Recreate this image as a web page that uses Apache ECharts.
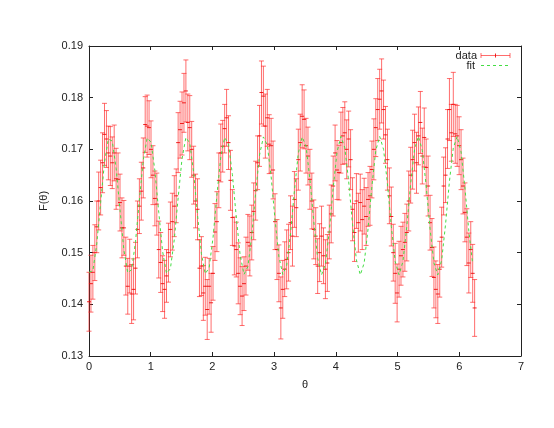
<!DOCTYPE html>
<html>
<head>
<meta charset="utf-8">
<script src="https://cdn.jsdelivr.net/npm/echarts@6/dist/echarts.min.js"></script>
<style>
  html, body { margin: 0; padding: 0; background: #fff; }
  #chart { width: 554px; height: 428px; }
</style>
</head>
<body>
<div id="chart"></div>
<script>
// sample grid (evenly spaced theta)
const thetaStep = 0.0314
const fitStep = 0.0628

// F(theta) measured values
const dataValues = [
  0.1405, 0.1440, 0.1462, 0.1500, 0.1550, 0.1600, 0.1626, 0.1674, 0.1729, 0.1720,
  0.1693, 0.1687, 0.1674, 0.1693, 0.1643, 0.1642, 0.1597, 0.1548, 0.1548, 0.1474,
  0.1435, 0.1474, 0.1420, 0.1429, 0.1470, 0.1545, 0.1590, 0.1619, 0.1664, 0.1748,
  0.1745, 0.1742, 0.1700, 0.1650, 0.1605, 0.1594, 0.1506, 0.1481, 0.1440, 0.1429,
  0.1455, 0.1500, 0.1545, 0.1560, 0.1590, 0.1610, 0.1713, 0.1738, 0.1750, 0.1790,
  0.1813, 0.1752, 0.1742, 0.1700, 0.1650, 0.1600, 0.1584, 0.1470, 0.1474, 0.1422,
  0.1435, 0.1390, 0.1435, 0.1403, 0.1460, 0.1540, 0.1560, 0.1640, 0.1693, 0.1706,
  0.1740, 0.1761, 0.1713, 0.1640, 0.1568, 0.1513, 0.1506, 0.1460, 0.1435, 0.1416,
  0.1440, 0.1474, 0.1520, 0.1513, 0.1539, 0.1580, 0.1620, 0.1674, 0.1726, 0.1810,
  0.1803, 0.1745, 0.1761, 0.1710, 0.1707, 0.1660, 0.1560, 0.1506, 0.1460, 0.1393,
  0.1429, 0.1468, 0.1487, 0.1500, 0.1558, 0.1532, 0.1603, 0.1587, 0.1680, 0.1713,
  0.1764, 0.1758, 0.1707, 0.1687, 0.1642, 0.1600, 0.1545, 0.1532, 0.1474, 0.1500,
  0.1532, 0.1494, 0.1468, 0.1480, 0.1540, 0.1575, 0.1629, 0.1693, 0.1660, 0.1655,
  0.1713, 0.1726, 0.1732, 0.1700, 0.1720, 0.1680, 0.1584, 0.1539, 0.1600, 0.1558,
  0.1597, 0.1564, 0.1590, 0.1570, 0.1603, 0.1610, 0.1661, 0.1700, 0.1742, 0.1777,
  0.1797, 0.1813, 0.1777, 0.1728, 0.1680, 0.1610, 0.1570, 0.1500, 0.1460, 0.1422,
  0.1468, 0.1494, 0.1506, 0.1520, 0.1539, 0.1600, 0.1650, 0.1680, 0.1713, 0.1674,
  0.1726, 0.1752, 0.1687, 0.1723, 0.1665, 0.1629, 0.1558, 0.1510, 0.1452, 0.1429,
  0.1420, 0.1468, 0.1530, 0.1629, 0.1650, 0.1720, 0.1777, 0.1732, 0.1787, 0.1730,
  0.1726, 0.1707, 0.1680, 0.1629, 0.1578, 0.1530, 0.1480, 0.1506, 0.1460, 0.1393
]

// error bar half-heights
const dataErrors = [
  0.0057, 0.0055, 0.0052, 0.0054, 0.0050, 0.0056, 0.0053, 0.0058, 0.0060, 0.0055,
  0.0052, 0.0057, 0.0050, 0.0054, 0.0059, 0.0051, 0.0055, 0.0058, 0.0053, 0.0056,
  0.0054, 0.0052, 0.0057, 0.0059, 0.0050, 0.0055, 0.0053, 0.0056, 0.0058, 0.0054,
  0.0060, 0.0052, 0.0055, 0.0057, 0.0053, 0.0060, 0.0055, 0.0058, 0.0054, 0.0056,
  0.0051, 0.0057, 0.0053, 0.0055, 0.0059, 0.0052, 0.0058, 0.0055, 0.0061, 0.0057,
  0.0060, 0.0055, 0.0062, 0.0054, 0.0056, 0.0052, 0.0059, 0.0055, 0.0057, 0.0053,
  0.0056, 0.0058, 0.0054, 0.0057, 0.0052, 0.0055, 0.0058, 0.0053, 0.0056, 0.0050,
  0.0047, 0.0055, 0.0052, 0.0058, 0.0054, 0.0056, 0.0053, 0.0059, 0.0055, 0.0057,
  0.0052, 0.0056, 0.0054, 0.0058, 0.0053, 0.0055, 0.0057, 0.0052, 0.0059, 0.0061,
  0.0058, 0.0062, 0.0055, 0.0057, 0.0053, 0.0056, 0.0054, 0.0058, 0.0055, 0.0060,
  0.0056, 0.0053, 0.0057, 0.0055, 0.0052, 0.0058, 0.0054, 0.0056, 0.0059, 0.0055,
  0.0061, 0.0057, 0.0053, 0.0056, 0.0058, 0.0054, 0.0057, 0.0055, 0.0053, 0.0056,
  0.0058, 0.0054, 0.0057, 0.0055, 0.0052, 0.0056, 0.0058, 0.0054, 0.0057, 0.0053,
  0.0059, 0.0055, 0.0060, 0.0057, 0.0054, 0.0058, 0.0061, 0.0056, 0.0053, 0.0057,
  0.0055, 0.0058, 0.0054, 0.0056, 0.0052, 0.0057, 0.0055, 0.0059, 0.0056, 0.0060,
  0.0058, 0.0062, 0.0057, 0.0055, 0.0059, 0.0054, 0.0057, 0.0055, 0.0058, 0.0056,
  0.0054, 0.0057, 0.0053, 0.0056, 0.0055, 0.0058, 0.0054, 0.0057, 0.0055, 0.0059,
  0.0056, 0.0060, 0.0054, 0.0057, 0.0055, 0.0058, 0.0053, 0.0056, 0.0059, 0.0055,
  0.0057, 0.0054, 0.0058, 0.0056, 0.0053, 0.0057, 0.0060, 0.0055, 0.0062, 0.0057,
  0.0059, 0.0056, 0.0058, 0.0054, 0.0057, 0.0055, 0.0058, 0.0054, 0.0056, 0.0055
]

// fitted curve samples
const fitValues = [
  0.1462, 0.1465, 0.1517, 0.1597, 0.1675, 0.1720, 0.1716, 0.1663, 0.1583, 0.1505,
  0.1461, 0.1467, 0.1521, 0.1602, 0.1679, 0.1722, 0.1714, 0.1659, 0.1578, 0.1502,
  0.1460, 0.1469, 0.1525, 0.1606, 0.1682, 0.1723, 0.1712, 0.1655, 0.1573, 0.1498,
  0.1459, 0.1471, 0.1529, 0.1611, 0.1685, 0.1723, 0.1710, 0.1651, 0.1569, 0.1495,
  0.1458, 0.1473, 0.1533, 0.1616, 0.1689, 0.1724, 0.1708, 0.1647, 0.1564, 0.1492,
  0.1458, 0.1475, 0.1537, 0.1620, 0.1692, 0.1724, 0.1706, 0.1642, 0.1560, 0.1489,
  0.1457, 0.1478, 0.1542, 0.1625, 0.1695, 0.1725, 0.1703, 0.1638, 0.1555, 0.1486,
  0.1457, 0.1480, 0.1546, 0.1629, 0.1698, 0.1725, 0.1700, 0.1634, 0.1551, 0.1483,
  0.1457, 0.1483, 0.1551, 0.1634, 0.1700, 0.1725, 0.1698, 0.1629, 0.1546, 0.1480,
  0.1457, 0.1486, 0.1555, 0.1638, 0.1703, 0.1725, 0.1695, 0.1625, 0.1542, 0.1478
]

const xTicks = [0, 1, 2, 3, 4, 5, 6, 7]
const yTicks = [0.13, 0.14, 0.15, 0.16, 0.17, 0.18, 0.19]

const errData = dataValues.map((v, i) => [i * thetaStep, v, dataErrors[i]])
const fitData = fitValues.map((v, k) => [k * fitStep, v])

const fontFamily = "'Liberation Sans', Arial, sans-serif"
const textColor = '#222'
const frameColor = '#222'
const barColor = 'rgba(255, 40, 40, 0.68)'
const markColor = 'rgba(235, 0, 0, 0.85)'
const fitColor = '#44dd44'

const chart = echarts.init(document.getElementById('chart'), null, { renderer: 'canvas' })

const axisBase = {
  axisLine: { show: true, onZero: false, lineStyle: { color: frameColor, width: 1 } },
  axisTick: { show: true, inside: true, length: 4, lineStyle: { color: frameColor } },
  splitLine: { show: false }
}

const option = {
  backgroundColor: '#fff',
  animation: false,
  grid: { left: 89, right: 33, top: 46, bottom: 72 },
  xAxis: [
    {
      ...axisBase,
      type: 'value', min: xTicks[0], max: xTicks[xTicks.length - 1], interval: 1,
      position: 'bottom',
      axisLabel: { margin: 5, fontSize: 11, color: textColor, fontFamily: fontFamily },
      name: 'θ', nameLocation: 'middle', nameGap: 23,
      nameTextStyle: { fontSize: 11, color: textColor, fontFamily: fontFamily }
    },
    {
      ...axisBase,
      type: 'value', min: xTicks[0], max: xTicks[xTicks.length - 1], interval: 1,
      position: 'top', axisLabel: { show: false }
    }
  ],
  yAxis: [
    {
      ...axisBase,
      type: 'value', min: yTicks[0], max: yTicks[yTicks.length - 1], interval: 0.01,
      position: 'left',
      axisLabel: {
        margin: 6, fontSize: 11, color: textColor, fontFamily: fontFamily,
        formatter: v => v.toFixed(2)
      },
      name: 'F(θ)', nameLocation: 'middle', nameGap: 40, nameRotate: 90,
      nameTextStyle: { fontSize: 11, color: textColor, fontFamily: fontFamily }
    },
    {
      ...axisBase,
      type: 'value', min: yTicks[0], max: yTicks[yTicks.length - 1], interval: 0.01,
      position: 'right', axisLabel: { show: false }
    }
  ],
  series: [
    {
      name: 'data',
      type: 'custom',
      xAxisIndex: 0,
      yAxisIndex: 0,
      data: errData,
      z: 2,
      renderItem: (params, api) => {
        const x = api.value(0)
        const y = api.value(1)
        const e = api.value(2)
        const top = api.coord([x, y + e])
        const bot = api.coord([x, y - e])
        const mid = api.coord([x, y])
        const cap = 2.5
        const barStyle = { stroke: barColor, lineWidth: 1 }
        return {
          type: 'group',
          children: [
            { type: 'line', shape: { x1: top[0], y1: top[1], x2: bot[0], y2: bot[1] }, style: barStyle },
            { type: 'line', shape: { x1: top[0] - cap, y1: top[1], x2: top[0] + cap, y2: top[1] }, style: barStyle },
            { type: 'line', shape: { x1: bot[0] - cap, y1: bot[1], x2: bot[0] + cap, y2: bot[1] }, style: barStyle },
            { type: 'line', shape: { x1: mid[0] - 2, y1: mid[1], x2: mid[0] + 2, y2: mid[1] }, style: { stroke: markColor, lineWidth: 1 } }
          ]
        }
      }
    },
    {
      name: 'fit',
      type: 'line',
      xAxisIndex: 0,
      yAxisIndex: 0,
      data: fitData,
      showSymbol: false,
      z: 3,
      lineStyle: { color: fitColor, width: 1, type: [3, 3] }
    }
  ],
  // key drawn like the original's inset legend
  graphic: [
    { type: 'text', right: 554 - 477, top: 50, style: { text: 'data', fontSize: 11, fontFamily: fontFamily, fill: textColor } },
    { type: 'line', shape: { x1: 481, y1: 55.5, x2: 510, y2: 55.5 }, style: { stroke: barColor, lineWidth: 1 } },
    { type: 'line', shape: { x1: 481, y1: 53, x2: 481, y2: 58 }, style: { stroke: barColor, lineWidth: 1 } },
    { type: 'line', shape: { x1: 510, y1: 53, x2: 510, y2: 58 }, style: { stroke: barColor, lineWidth: 1 } },
    { type: 'line', shape: { x1: 495.5, y1: 53.5, x2: 495.5, y2: 57.5 }, style: { stroke: markColor, lineWidth: 1 } },
    { type: 'text', right: 554 - 475, top: 60, style: { text: 'fit', fontSize: 11, fontFamily: fontFamily, fill: textColor } },
    { type: 'line', shape: { x1: 481, y1: 65.5, x2: 510, y2: 65.5 }, style: { stroke: fitColor, lineWidth: 1, lineDash: [3, 3] } }
  ]
}

chart.setOption(option)
</script>
</body>
</html>
